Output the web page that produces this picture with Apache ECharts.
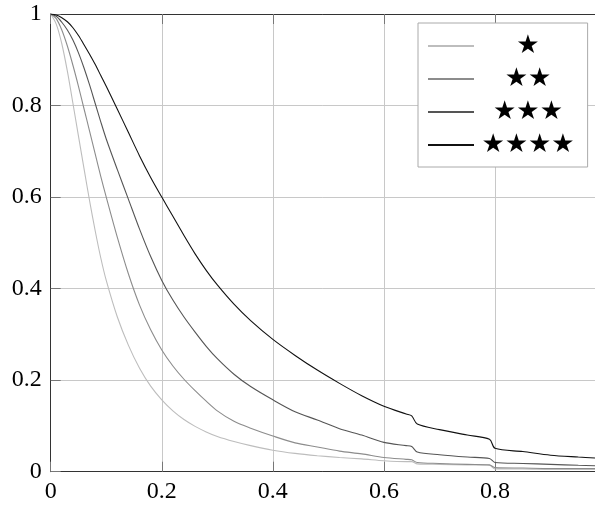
<!DOCTYPE html>
<html>
<head>
<meta charset="utf-8">
<script src="https://cdn.jsdelivr.net/npm/echarts@6/dist/echarts.min.js"></script>
<style>
  html, body { margin: 0; padding: 0; background: #fff; }
  #chart { width: 595px; height: 505px; }
</style>
</head>
<body>
<div id="chart"></div>
<script>
var xs = [0, 0.01, 0.02, 0.03, 0.04, 0.05, 0.06, 0.07, 0.08, 0.09, 0.10,
  0.12, 0.14, 0.16, 0.18, 0.20, 0.22, 0.24, 0.26, 0.28, 0.30, 0.33, 0.36,
  0.40, 0.44, 0.48, 0.52, 0.56, 0.60, 0.64, 0.65, 0.66, 0.70, 0.75, 0.79,
  0.80, 0.85, 0.90, 0.95, 0.98];

var names = ['★', '★★', '★★★', '★★★★'];

var one = [1, 0.978, 0.935, 0.875, 0.805, 0.733, 0.662, 0.592, 0.527, 0.468, 0.418,
  0.338, 0.276, 0.226, 0.187, 0.157, 0.133, 0.114, 0.099, 0.087, 0.077, 0.066, 0.057,
  0.047, 0.040, 0.035, 0.031, 0.028, 0.024, 0.022, 0.022, 0.017, 0.016, 0.015, 0.014,
  0.006, 0.006, 0.005, 0.005, 0.005];

var two = [1, 0.99, 0.965, 0.93, 0.888, 0.842, 0.793, 0.744, 0.695, 0.646, 0.600,
  0.512, 0.432, 0.364, 0.310, 0.266, 0.231, 0.202, 0.177, 0.154, 0.133, 0.110, 0.095,
  0.078, 0.063, 0.054, 0.045, 0.039, 0.031, 0.027, 0.026, 0.020, 0.018, 0.016, 0.015,
  0.009, 0.008, 0.007, 0.007, 0.007];

var three = [1, 0.995, 0.982, 0.965, 0.943, 0.915, 0.882, 0.845, 0.805, 0.765, 0.727,
  0.660, 0.595, 0.530, 0.470, 0.418, 0.375, 0.338, 0.305, 0.274, 0.247, 0.213, 0.186,
  0.157, 0.131, 0.113, 0.094, 0.080, 0.064, 0.057, 0.055, 0.043, 0.037, 0.032, 0.029,
  0.020, 0.018, 0.016, 0.014, 0.013];

var four = [1, 0.998, 0.992, 0.983, 0.970, 0.953, 0.933, 0.912, 0.890, 0.866, 0.842,
  0.792, 0.741, 0.690, 0.643, 0.600, 0.558, 0.516, 0.476, 0.440, 0.408, 0.366, 0.330,
  0.289, 0.254, 0.222, 0.193, 0.166, 0.143, 0.126, 0.122, 0.104, 0.092, 0.080, 0.071,
  0.051, 0.044, 0.036, 0.032, 0.030];

var colors = ['#bdbdbd', '#8c8c8c', '#555555', '#111111'];

function pairs(ys) {
  return xs.map(function(x, i) { return [x, ys[i]]; });
}

function line(name, ys, color) {
  return {
    name: name,
    type: 'line',
    data: pairs(ys),
    symbol: 'none',
    smooth: 0.3,
    lineStyle: { color: color, width: 1.1 },
    itemStyle: { color: color }
  };
}

var labelFont = { fontFamily: 'Liberation Serif', fontSize: 24, color: '#000' };

var chart = echarts.init(document.getElementById('chart'), null, { renderer: 'canvas' });

chart.setOption({
  animation: false,
  color: colors,
  grid: { left: 50.7, right: 0, top: 14, bottom: 33.3 },
  xAxis: [{
    type: 'value', min: 0, max: 0.98, interval: 0.2,
    axisLine: { lineStyle: { color: '#333', width: 1 } },
    axisTick: { inside: true, length: 10, lineStyle: { color: '#777' } },
    axisLabel: Object.assign({ margin: 8, showMaxLabel: false }, labelFont),
    splitLine: { show: true, showMaxLine: false, lineStyle: { color: '#c8c8c8', width: 1 } }
  }, {
    type: 'value', min: 0, max: 0.98, interval: 0.2, position: 'top',
    axisLine: { show: true, lineStyle: { color: '#333', width: 1 } },
    axisTick: { inside: true, length: 10, lineStyle: { color: '#777' } },
    axisLabel: { show: false },
    splitLine: { show: false }
  }],
  yAxis: {
    type: 'value', min: 0, max: 1, interval: 0.2,
    axisLine: { show: true, lineStyle: { color: '#333', width: 1 } },
    axisTick: { show: true, inside: true, length: 10, lineStyle: { color: '#777' } },
    axisLabel: Object.assign({ margin: 9 }, labelFont),
    splitLine: { show: true, lineStyle: { color: '#c8c8c8', width: 1 } }
  },
  legend: {
    data: names,
    orient: 'vertical',
    left: 418, top: 23,
    padding: [10, 13, 9, 9],
    itemWidth: 46, itemHeight: 20, itemGap: 7,
    backgroundColor: '#fff',
    borderColor: '#aaa', borderWidth: 1,
    // keep the line, hide the round marker on it
    itemStyle: { color: 'rgba(0,0,0,0)', borderWidth: 0, opacity: 0 },
    formatter: function(name) { return '{s|' + name + '}'; },
    textStyle: {
      rich: {
        s: { width: 98, align: 'center', fontFamily: 'DejaVu Sans', fontSize: 26, color: '#000' }
      }
    }
  },
  series: [
    line(names[0], one, colors[0]),
    line(names[1], two, colors[1]),
    line(names[2], three, colors[2]),
    line(names[3], four, colors[3])
  ]
});
</script>
</body>
</html>
